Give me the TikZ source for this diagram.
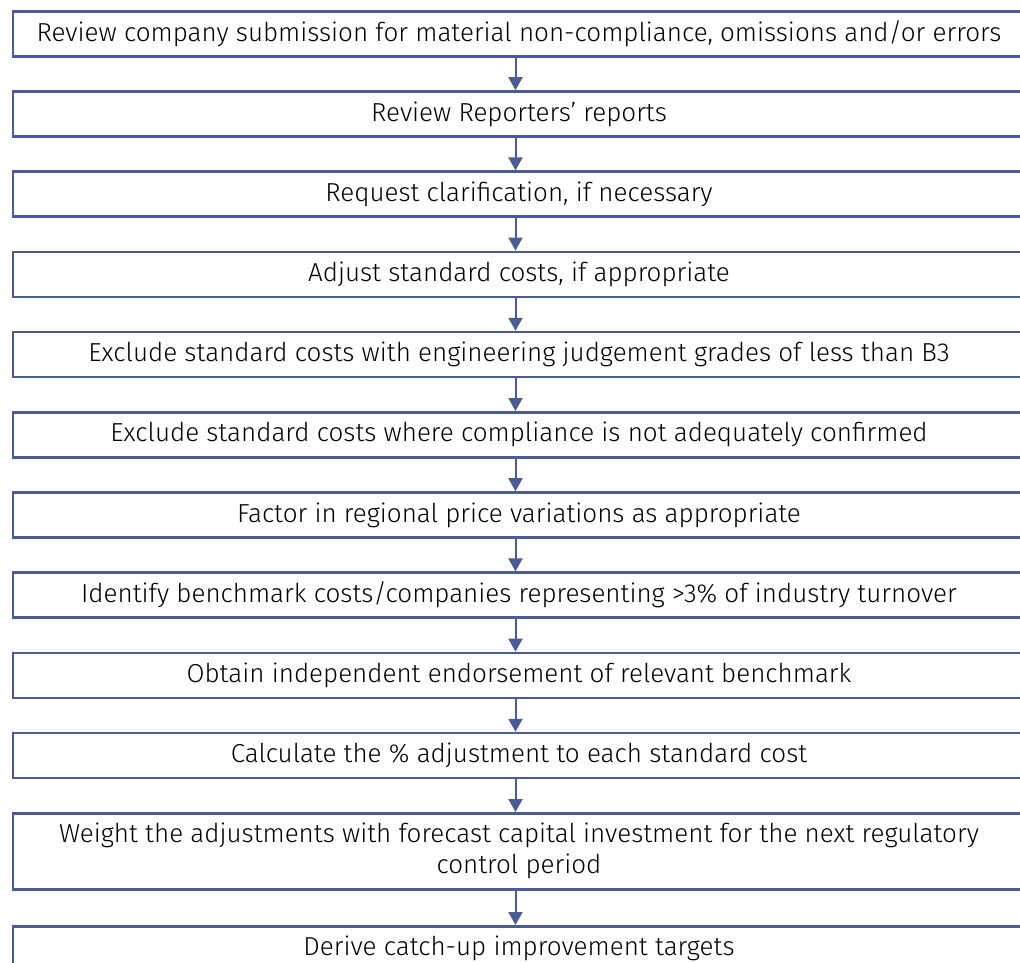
\documentclass[tikz,border=0pt]{standalone}
\usepackage{fontspec}
\setmainfont{Fira Sans Light}
\usetikzlibrary{arrows.meta}
\definecolor{flowblue}{HTML}{4B5B93}
\tikzset{
  stepbox/.style={draw=flowblue, line width=2.6pt, rectangle, minimum width=1012pt,
    minimum height=45pt, inner sep=0pt, anchor=north, align=center,
    font=\fontsize{26pt}{31pt}\selectfont, text=black},
  flowarrow/.style={draw=flowblue, line width=2pt, -{Triangle[width=14pt,length=13pt]}}
}
\begin{document}
\begin{tikzpicture}[x=1pt,y=-1pt]
\useasboundingbox (0,0) rectangle (1020,962);
\clip (0,0) rectangle (1020,962);
\node[stepbox] (b1) at (519,10) {Review company submission for material non-compliance, omissions and/or errors};
\node[stepbox] (b2) at (519,90.2) {Review Reporters’ reports};
\node[stepbox] (b3) at (519,170.4) {Request clarification, if necessary};
\node[stepbox] (b4) at (519,250.6) {Adjust standard costs, if appropriate};
\node[stepbox] (b5) at (519,330.8) {Exclude standard costs with engineering judgement grades of less than B3};
\node[stepbox] (b6) at (519,411) {Exclude standard costs where compliance is not adequately confirmed};
\node[stepbox] (b7) at (519,491.2) {Factor in regional price variations as appropriate};
\node[stepbox] (b8) at (519,571.4) {Identify benchmark costs/companies representing >3\% of industry turnover};
\node[stepbox] (b9) at (519,651.6) {Obtain independent endorsement of relevant benchmark};
\node[stepbox] (b10) at (519,731.8) {Calculate the \% adjustment to each standard cost};
\node[stepbox, minimum height=76pt] (b11) at (519,812) {Weight the adjustments with forecast capital investment for the next regulatory\\control period};
\node[stepbox] (b12) at (519,925) {Derive catch-up improvement targets};
\foreach \a/\b in {b1/b2,b2/b3,b3/b4,b4/b5,b5/b6,b6/b7,b7/b8,b8/b9,b9/b10,b10/b11,b11/b12}
  \draw[flowarrow] ([xshift=-3.5pt]\a.south) -- ([xshift=-3.5pt]\b.north);
\end{tikzpicture}
\end{document}
